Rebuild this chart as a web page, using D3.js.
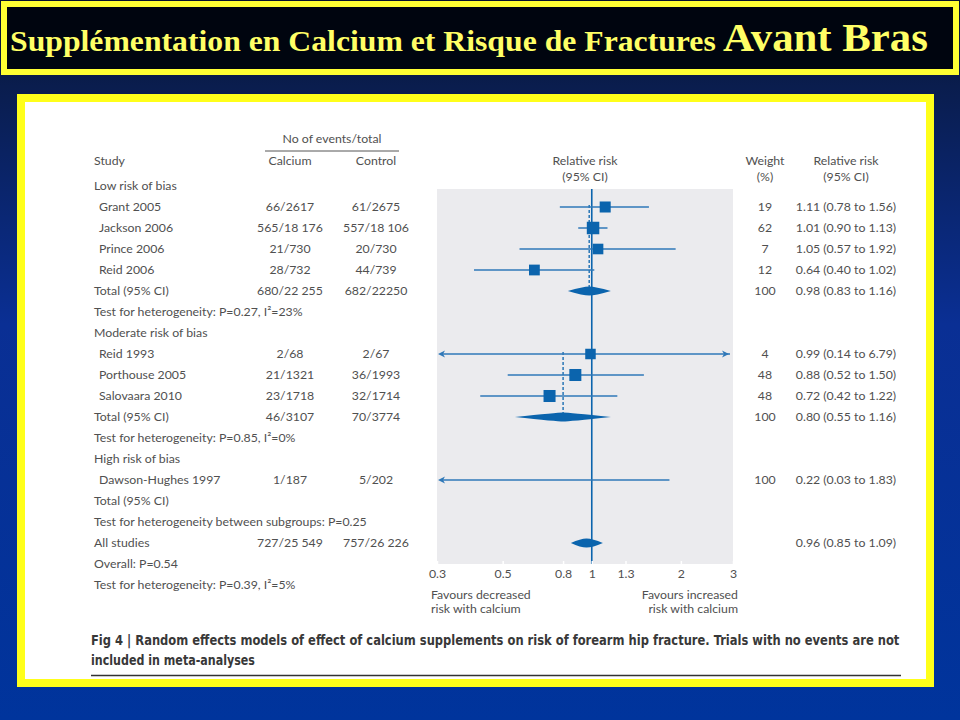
<!DOCTYPE html>
<html><head><meta charset="utf-8">
<script src="https://cdn.jsdelivr.net/npm/d3@7"></script>
<style>body{margin:0;background:#003399}svg{display:block}</style>
</head><body><svg id="c" width="960" height="720"></svg>
<script>
// ---------- data ----------
const rowLabels = ["Low risk of bias","Grant 2005","Jackson 2006","Prince 2006","Reid 2006","Total (95% CI)",
  "Test for heterogeneity: P=0.27, I²=23%","Moderate risk of bias","Reid 1993","Porthouse 2005","Salovaara 2010",
  "Total (95% CI)","Test for heterogeneity: P=0.85, I²=0%","High risk of bias","Dawson-Hughes 1997","Total (95% CI)",
  "Test for heterogeneity between subgroups: P=0.25","All studies","Overall: P=0.54","Test for heterogeneity: P=0.39, I²=5%"];
const rowKinds = ["group","study","study","study","study","total","note","group","study","study","study","total","note",
  "group","study","total","note","total","note","note"];
const calciumCol = ["","66/2617","565/18 176","21/730","28/732","680/22 255","","","2/68","21/1321","23/1718","46/3107","","","1/187","","","727/25 549","",""];
const controlCol = ["","61/2675","557/18 106","20/730","44/739","682/22250","","","2/67","36/1993","32/1714","70/3774","","","5/202","","","757/26 226","",""];
const weightCol = ["","19","62","7","12","100","","","4","48","48","100","","","100","","","","",""];
const rrCol = ["","1.11 (0.78 to 1.56)","1.01 (0.90 to 1.13)","1.05 (0.57 to 1.92)","0.64 (0.40 to 1.02)","0.98 (0.83 to 1.16)","","",
  "0.99 (0.14 to 6.79)","0.88 (0.52 to 1.50)","0.72 (0.42 to 1.22)","0.80 (0.55 to 1.16)","","","0.22 (0.03 to 1.83)","","","0.96 (0.85 to 1.09)","",""];

const studyRows = [1,2,3,4,8,9,10,14];
const studyRR = [1.11,1.01,1.05,0.64,0.99,0.88,0.72,0.22];
const studyLo = [0.78,0.90,0.57,0.40,0.14,0.52,0.42,0.03];
const studyHi = [1.56,1.13,1.92,1.02,6.79,1.50,1.22,1.83];
const studyWeight = [19,62,7,12,4,48,48,100];

const pooledRows = [5,11,17];
const pooledRR = [0.98,0.80,0.96];
const pooledLo = [0.83,0.55,0.85];
const pooledHi = [1.16,1.16,1.09];
const dashedFrom = [1,8,null];

const tickValues = [0.3,0.5,0.8,1,1.3,2,3];

// ---------- drawing ----------
const svg = d3.select("#c");
const defs = svg.append("defs");
const bg = defs.append("linearGradient").attr("id","bg").attr("x1",0).attr("y1",0).attr("x2",0).attr("y2",1);
[["0","#06122e"],["0.12","#0a1d4e"],["0.45","#0a2f94"],["1","#00349c"]].forEach(s=>bg.append("stop").attr("offset",s[0]).attr("stop-color",s[1]));
svg.append("rect").attr("width",960).attr("height",720).attr("fill","url(#bg)");

// helper: squeeze a text horizontally to a target width
function fitWidth(sel, x0, target){
  const w = sel.node().getComputedTextLength();
  const k = target / w;
  sel.attr("x",0).attr("transform",`translate(${x0},0) scale(${k},1)`);
}

// title box
svg.append("rect").attr("x",4).attr("y",4).attr("width",952).attr("height",68)
  .attr("fill","#00050f").attr("stroke","#ffff33").attr("stroke-width",6);
const tf = "'Liberation Serif','Times New Roman',serif";
const t1 = svg.append("text").attr("y",51).attr("fill","#ffff66").attr("font-family",tf).attr("font-weight","bold")
  .attr("font-size",30).text("Supplémentation en Calcium et Risque de Fractures");
fitWidth(t1, 10, 706);
const t2 = svg.append("text").attr("y",51).attr("fill","#ffff66").attr("font-family",tf).attr("font-weight","bold")
  .attr("font-size",40).text("Avant Bras");
fitWidth(t2, 723, 205);

// panel
svg.append("rect").attr("x",21).attr("y",98).attr("width",909).attr("height",585)
  .attr("fill","#ffffff").attr("stroke","#ffff1a").attr("stroke-width",8);

const textColor = "#505050";
const fontFam = "Lato, 'Open Sans', sans-serif";
const fs = 12.3;

const x = d3.scaleLog().domain([0.3,3]).range([437,733]);
const y = d3.scaleLinear().domain([0,19]).range([186,585]);

const g = svg.append("g").attr("font-family",fontFam).attr("font-size",fs).attr("fill",textColor);

// plot background
g.append("rect").attr("x",x(0.3)).attr("y",189).attr("width",x(3)-x(0.3)).attr("height",564-189).attr("fill","#ebebee");

// headers
function txt(px,py,s,anchor){ return g.append("text").attr("x",px).attr("y",py).attr("dy","0.35em").attr("text-anchor",anchor||"start").text(s); }
txt(332,139,"No of events/total","middle");
g.append("line").attr("x1",265).attr("x2",399).attr("y1",151).attr("y2",151).attr("stroke","#555").attr("stroke-width",1);
txt(94,161,"Study");
txt(290,161,"Calcium","middle");
txt(376,161,"Control","middle");
txt(585,161,"Relative risk","middle");
txt(585,177,"(95% CI)","middle");
txt(765,161,"Weight","middle");
txt(765,177,"(%)","middle");
txt(846,161,"Relative risk","middle");
txt(846,177,"(95% CI)","middle");

// table rows
rowLabels.forEach((lab,i)=>{
  txt(rowKinds[i]==="study"?99:94, y(i), lab);
  if(calciumCol[i]) txt(290,y(i),calciumCol[i],"middle");
  if(controlCol[i]) txt(376,y(i),controlCol[i],"middle");
  if(weightCol[i]) txt(765,y(i),weightCol[i],"middle");
  if(rrCol[i]) txt(846,y(i),rrCol[i],"middle");
});

const blue = "#0b64ad";
const lineBlue = "#2f78b8";

// reference line at 1
g.append("line").attr("x1",x(1)).attr("x2",x(1)).attr("y1",189).attr("y2",564).attr("stroke",blue).attr("stroke-width",1.6);

// dashed pooled lines
pooledRows.forEach((r,k)=>{
  if(dashedFrom[k]==null) return;
  g.append("line").attr("x1",x(pooledRR[k])).attr("x2",x(pooledRR[k]))
   .attr("y1",y(dashedFrom[k])-2).attr("y2",y(r)).attr("stroke",blue).attr("stroke-width",1.3).attr("stroke-dasharray","3,2");
});

// studies
const sz = d3.scaleLinear().domain([4,62]).range([10.5,12.5]).clamp(true);
const [dmin,dmax] = x.domain();
studyRows.forEach((r,k)=>{
  const yy = y(r);
  const l = Math.max(studyLo[k],dmin), h = Math.min(studyHi[k],dmax);
  g.append("line").attr("x1",x(l)+(studyLo[k]<dmin?3:0)).attr("x2",x(h)-(studyHi[k]>dmax?3:0)).attr("y1",yy).attr("y2",yy)
   .attr("stroke",lineBlue).attr("stroke-width",1.5);
  if(studyLo[k]<dmin){
    const ax=x(dmin)+1;
    g.append("path").attr("d",`M${ax},${yy} L${ax+7},${yy-3.5} L${ax+5},${yy} L${ax+7},${yy+3.5} Z`).attr("fill",lineBlue);
  }
  if(studyHi[k]>dmax){
    const ax=x(dmax)-4;
    g.append("path").attr("d",`M${ax},${yy} L${ax-7},${yy-3.5} L${ax-5},${yy} L${ax-7},${yy+3.5} Z`).attr("fill",lineBlue);
  }
  if(studyRR[k]>=dmin && studyRR[k]<=dmax){
    const s = sz(studyWeight[k]);
    g.append("rect").attr("x",x(studyRR[k])-s/2).attr("y",yy-s/2).attr("width",s).attr("height",s).attr("fill",blue);
  }
});

// diamonds
pooledRows.forEach((r,k)=>{
  const yy=y(r), hh=4.5;
  const c=x(pooledRR[k]), a=x(pooledLo[k]), b=x(pooledHi[k]);
  g.append("path").attr("d",`M${a},${yy} Q${c-6},${yy-hh} ${c},${yy-hh} Q${c+6},${yy-hh} ${b},${yy} Q${c+6},${yy+hh} ${c},${yy+hh} Q${c-6},${yy+hh} ${a},${yy} Z`)
    .attr("fill",blue);
});

// axis
const ax = g.append("g").attr("transform","translate(0,564)")
  .call(d3.axisBottom(x).tickValues(tickValues).tickFormat(d=>String(d)).tickSize(0).tickPadding(5));
ax.select(".domain").remove();
ax.selectAll("text").attr("font-family",fontFam).attr("font-size",fs).attr("fill",textColor);
ax.selectAll(".tick").append("line").attr("y1",-3).attr("y2",0).attr("stroke","#ffffff").attr("stroke-width",1.5);

txt(431,595,"Favours decreased");
txt(431,609,"risk with calcium");
txt(738,595,"Favours increased","end");
txt(738,609,"risk with calcium","end");

// caption
const capFont = "'Liberation Sans Narrow','DejaVu Sans Condensed',sans-serif";
const c1 = svg.append("text").attr("y",645).attr("font-family",capFont).attr("font-weight","bold").attr("font-size",14).attr("fill","#383838")
  .text("Fig 4 | Random effects models of effect of calcium supplements on risk of forearm hip fracture. Trials with no events are not");
fitWidth(c1, 91, 809);
const c2 = svg.append("text").attr("y",665).attr("font-family",capFont).attr("font-weight","bold").attr("font-size",14).attr("fill","#383838")
  .text("included in meta-analyses");
fitWidth(c2, 91, 164);
svg.append("line").attr("x1",91).attr("x2",901).attr("y1",675.5).attr("y2",675.5).attr("stroke","#333").attr("stroke-width",1.5);
</script></body></html>
